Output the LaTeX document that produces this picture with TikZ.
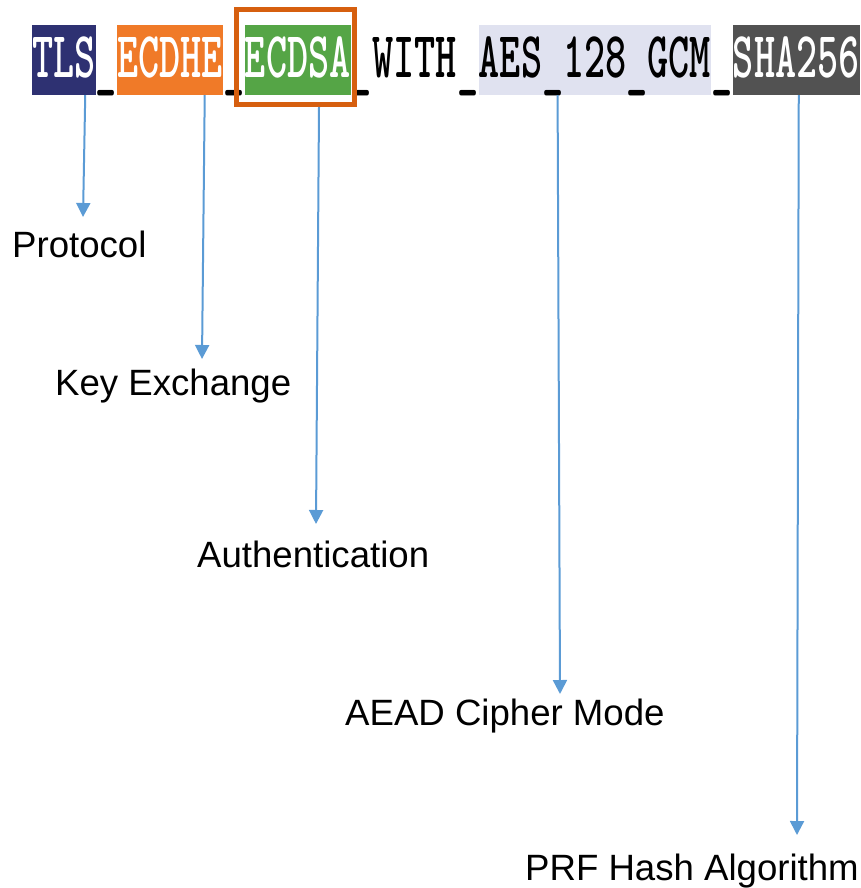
\documentclass[tikz,border=0pt]{standalone}
\usepackage{fontspec}
\setmainfont{Liberation Sans}
\usetikzlibrary{arrows.meta}

\definecolor{tlsnavy}{HTML}{2E3172}
\definecolor{kxorange}{HTML}{F07A28}
\definecolor{authgreen}{HTML}{55A546}
\definecolor{framered}{HTML}{D65F0F}
\definecolor{aeadlav}{HTML}{E0E2F0}
\definecolor{hashgray}{HTML}{525252}
\definecolor{arrowblue}{HTML}{5B9BD5}

% bold slab-serif typewriter face for the suite name
\newcommand\codefont{\ttfamily\bfseries\fontsize{65.5}{65.5}\selectfont}
% width of one condensed monospace character
\newcommand\cw{21.1}
\newcommand\codetxt[1]{\scalebox{0.614}[1]{#1}}
% low-set underscore
\newcommand\us{\raisebox{-7.5pt}{\_}}

\tikzset{
  seg/.style={anchor=west, inner sep=0pt, text height=53pt, text depth=17pt,
    font=\codefont},
  lbl/.style={anchor=base west, inner sep=0pt, font=\fontsize{36.6}{36.6}\selectfont},
  arr/.style={draw=arrowblue, line width=2pt, -{Triangle[width=14pt,length=14pt]}},
}

\begin{document}
\begin{tikzpicture}[x=1pt, y=-1pt]
\useasboundingbox (0,0) rectangle (860,888);

% cipher suite name, one node per field
\node[seg, fill=tlsnavy, text=white, minimum width=3*\cw pt] (tls) at (32,60) {\codetxt{TLS}};
\node[seg, minimum width=\cw pt] (u1) at (tls.east) {\codetxt{\us}};
\node[seg, fill=kxorange, text=white, minimum width=5*\cw pt] (ecdhe) at (u1.east) {\codetxt{ECDHE}};
\node[seg, minimum width=\cw pt] (u2) at (ecdhe.east) {\codetxt{\us}};
\node[seg, fill=authgreen, text=white, minimum width=5*\cw pt] (ecdsa) at (u2.east) {\codetxt{ECDSA}};
\node[seg, minimum width=\cw pt] (u3) at (ecdsa.east) {\codetxt{\us}};
\node[seg, minimum width=4*\cw pt] (with) at (u3.east) {\codetxt{WITH}};
\node[seg, minimum width=\cw pt] (u4) at (with.east) {\codetxt{\us}};
\node[seg, fill=aeadlav, minimum width=11*\cw pt] (aes) at (u4.east) {\codetxt{AES\us128\us GCM}};
\node[seg, minimum width=\cw pt] (u5) at (aes.east) {\codetxt{\us}};
\node[seg, fill=hashgray, text=white, minimum width=6*\cw pt] (sha) at (u5.east) {\codetxt{SHA256}};

% highlight frame around the authentication field
\node[draw=framered, line width=5pt, minimum width=118pt, minimum height=95pt, inner sep=0pt] (frame) at (295.5,57) {};

% field descriptions
\node[lbl] (protocol) at (12,257) {Protocol};
\node[lbl] (keyx) at (55,395) {Key Exchange};
\node[lbl] (auth) at (197,567) {Authentication};
\node[lbl] (aead) at (345,725) {AEAD Cipher Mode};
\node[lbl] (prf) at (525,880) {PRF Hash Algorithm};

% arrow tips just above each description
\coordinate (tipP) at (83,217);
\coordinate (tipK) at (202,359);
\coordinate (tipA) at (316,524);
\coordinate (tipC) at (560,694);
\coordinate (tipH) at (797,835);

\draw[arr] ([xshift=-10.5pt]tls.south east) -- (tipP);
\draw[arr] ([xshift=-18.5pt]ecdhe.south east) -- (tipK);
\draw[arr] (frame.south -| 319,0) -- (tipA);
\draw[arr] ([xshift=79pt]aes.south west) -- (tipC);
\draw[arr] ([xshift=66pt]sha.south west) -- (tipH);
\end{tikzpicture}
\end{document}
